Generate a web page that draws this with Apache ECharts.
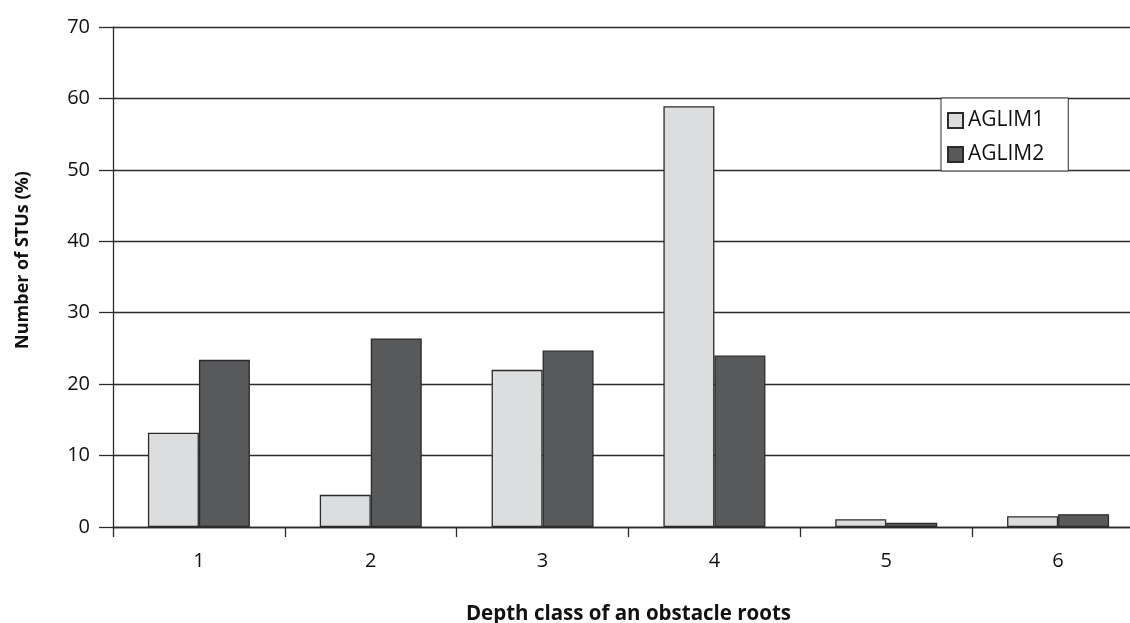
<!DOCTYPE html>
<html>
<head>
<meta charset="utf-8">
<script src="https://cdn.jsdelivr.net/npm/echarts@6/dist/echarts.min.js"></script>
<style>html,body{margin:0;padding:0;background:#fff;}#c{width:1130px;height:623px;}</style>
</head>
<body>
<div id="c"></div>
<script>
const categories = ['1', '2', '3', '4', '5', '6'];
const aglim1 = [13.2, 4.5, 22.0, 58.9, 1.1, 1.5];
const aglim2 = [23.4, 26.4, 24.7, 24.0, 0.6, 1.8];
const seriesNames = ['AGLIM1', 'AGLIM2'];
const yTicks = { min: 0, max: 70, interval: 10 };
const xTitle = 'Depth class of an obstacle roots';
const yTitle = 'Number of STUs (%)';

const FONT = '"Open Sans", "Noto Sans", sans-serif';
const LINE = '#2b2b2b';
const chart = echarts.init(document.getElementById('c'), null, { renderer: 'canvas' });
chart.setOption({
  animation: false,
  backgroundColor: '#fff',
  grid: { left: 113, top: 27, width: 1031, height: 500, containLabel: false, outerBoundsMode: 'none' },
  legend: {
    orient: 'vertical',
    left: 941, top: 98,
    padding: [12, 24, 6, 6],
    backgroundColor: '#fff',
    borderColor: LINE, borderWidth: 1,
    itemWidth: 15, itemHeight: 15, itemGap: 13,
    icon: 'rect',
    textStyle: { fontFamily: FONT, fontSize: 21, color: '#111', lineHeight: 21 },
    data: seriesNames
  },
  xAxis: {
    type: 'category',
    data: categories,
    name: xTitle,
    nameLocation: 'middle',
    nameGap: 77,
    nameTextStyle: { fontFamily: FONT, fontSize: 20.5, fontWeight: 'bold', color: '#111' },
    axisLine: { lineStyle: { color: LINE, width: 1.3 } },
    axisTick: { show: true, length: 10, lineStyle: { color: LINE, width: 1.3 } },
    axisLabel: { fontFamily: FONT, fontSize: 20, color: '#111', margin: 24 },
    splitLine: { show: false }
  },
  yAxis: {
    type: 'value',
    min: yTicks.min, max: yTicks.max, interval: yTicks.interval,
    name: yTitle,
    nameLocation: 'middle',
    nameGap: 81,
    nameRotate: 90,
    nameTextStyle: { fontFamily: FONT, fontSize: 18, fontWeight: 'bold', color: '#111', padding: [0, 0, 0, 34] },
    axisLine: { show: true, lineStyle: { color: LINE, width: 1.3 } },
    axisTick: { show: true, length: 14, inside: false, lineStyle: { color: LINE, width: 1.3 } },
    axisLabel: { fontFamily: FONT, fontSize: 20, color: '#111', margin: 23 },
    splitLine: { show: true, lineStyle: { color: LINE, width: 1.3 } }
  },
  series: [
    {
      name: seriesNames[0], type: 'bar', data: aglim1,
      barWidth: 51, barGap: '0%',
      itemStyle: { color: '#dcdddf', borderColor: LINE, borderWidth: 1.3 }
    },
    {
      name: seriesNames[1], type: 'bar', data: aglim2,
      barWidth: 51, barGap: '0%',
      itemStyle: { color: '#58595b', borderColor: LINE, borderWidth: 1.3 }
    }
  ]
});
</script>
</body>
</html>
